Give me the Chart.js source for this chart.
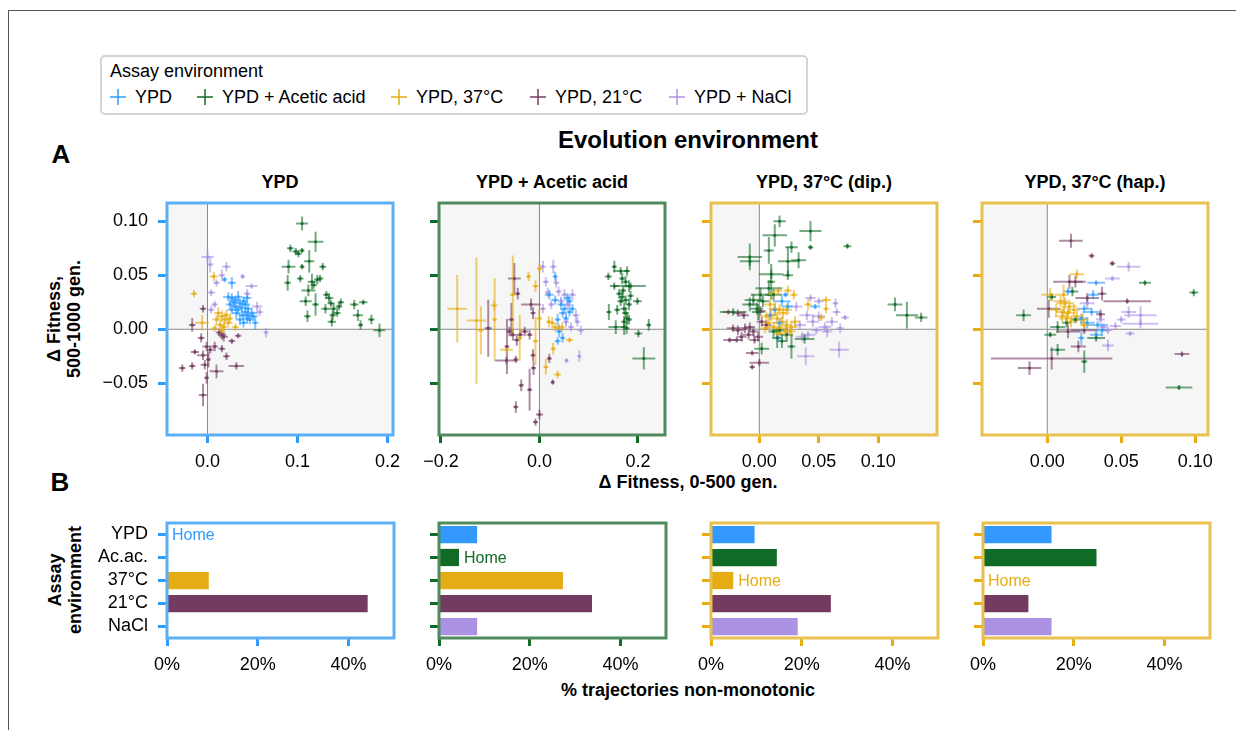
<!DOCTYPE html>
<html>
<head>
<meta charset="utf-8">
<script src="https://cdn.jsdelivr.net/npm/chart.js@4.4.1/dist/chart.umd.min.js"></script>
<style>
  body { margin: 0; background: #fff; font-family: "Liberation Sans", Arial, sans-serif; color: #000; }
  #page { position: relative; width: 1236px; height: 730px; overflow: hidden; }
  #frame { position: absolute; left: 8px; top: 10px; right: -2px; bottom: -2px; border-left: 1px solid #555; border-top: 1px solid #555; }
  canvas { position: absolute; }
  .lbl { position: absolute; transform: translate(-50%, -50%); white-space: nowrap; }
  .b { font-weight: bold; }
  .rot { transform: translate(-50%, -50%) rotate(-90deg); text-align: center; line-height: 20px; }
  #legend { position: absolute; left: 100px; top: 55px; width: 704px; height: 56px; border: 2px solid #d4d4d4; border-radius: 5px; }
  #legend .t { position: absolute; left: 8px; top: 4px; font-size: 18px; }
  #legend .it { position: absolute; top: 30px; font-size: 18px; }
  .mk { position: absolute; width: 16px; height: 16px; }
</style>
</head>
<body>
<div id="page">
  <div id="frame"></div>
  <div id="legend"><div class="t">Assay environment</div></div>
  <div class="lbl b" style="left:61px;top:154px;font-size:26px">A</div>
  <div class="lbl b" style="left:60px;top:482px;font-size:26px">B</div>
  <div class="lbl b" style="left:688px;top:140px;font-size:24px">Evolution environment</div>
  <div class="lbl b" style="left:280px;top:182px;font-size:18px">YPD</div>
  <div class="lbl b" style="left:552px;top:182px;font-size:18px">YPD + Acetic acid</div>
  <div class="lbl b" style="left:824px;top:182px;font-size:18px">YPD, 37°C (dip.)</div>
  <div class="lbl b" style="left:1095px;top:182px;font-size:18px">YPD, 37°C (hap.)</div>
  <div class="lbl b rot" style="left:64px;top:319px;font-size:18px">Δ Fitness,<br>500-1000 gen.</div>
  <div class="lbl b" style="left:688px;top:482px;font-size:18px">Δ Fitness, 0-500 gen.</div>
  <div class="lbl b rot" style="left:65px;top:580px;font-size:18px">Assay<br>environment</div>
  <div class="lbl b" style="left:688px;top:690px;font-size:18px">% trajectories non-monotonic</div>
</div>
<script>
// assay environments
const envNames = ['YPD', 'YPD + Acetic acid', 'YPD, 37°C', 'YPD, 21°C', 'YPD + NaCl'];
const barCats = ['YPD', 'Ac.ac.', '37°C', '21°C', 'NaCl'];
const envColors = ['#2e9bff', '#106b26', '#e5ad13', '#733b60', '#ab92e3'];

// shared y axis of the scatter panels
const yRange = [-0.098, 0.117];
const yTicks = [-0.05, 0, 0.05, 0.10];

// x ranges / ticks of each evolution environment panel
const xRanges = [[-0.045, 0.206], [-0.204, 0.255], [-0.0406, 0.1493], [-0.0441, 0.1086]];
const xTicks = [[0, 0.1, 0.2], [-0.2, 0, 0.2], [0, 0.05, 0.10], [0, 0.05, 0.10]];
const xDecimals = [1, 1, 2, 2];

// points: [dFit 0-500, dFit 500-1000, x err, y err]
// evolved in YPD
const p1_ypd = [[0.019,0.046,0.001,0.001],[0.027,0.043,0.003,0.004],[0.023,0.030,0.004,0.003],[0.027,0.029,0.003,0.003],[0.031,0.027,0.004,0.003],[0.034,0.030,0.003,0.004],[0.040,0.026,0.003,0.003],[0.044,0.029,0.003,0.004],[0.038,0.020,0.004,0.003],[0.042,0.016,0.003,0.003],[0.045,0.013,0.003,0.004],[0.034,0.018,0.003,0.003],[0.031,0.021,0.003,0.003],[0.027,0.018,0.003,0.003],[0.049,0.015,0.005,0.003],[0.053,0.006,0.002,0.005],[0.047,0.009,0.003,0.003],[0.036,0.009,0.003,0.004],[0.040,0.006,0.003,0.003],[0.044,0.010,0.003,0.003],[0.032,0.015,0.003,0.004],[0.025,0.023,0.003,0.003],[0.042,0.023,0.004,0.003],[0.045,0.019,0.003,0.003],[0.051,0.012,0.003,0.003],[0.029,0.025,0.003,0.004],[0.036,0.024,0.003,0.003],[0.039,0.013,0.003,0.003]];
const p1_acetic = [[0.105,0.098,0.005,0.005],[0.120,0.081,0.007,0.008],[0.092,0.075,0.002,0.002],[0.098,0.072,0.002,0.002],[0.101,0.070,0.002,0.002],[0.105,0.073,0.001,0.001],[0.090,0.058,0.006,0.005],[0.105,0.058,0.001,0.001],[0.113,0.063,0.004,0.009],[0.128,0.058,0.002,0.002],[0.089,0.043,0.002,0.006],[0.103,0.047,0.002,0.002],[0.116,0.044,0.003,0.006],[0.118,0.041,0.002,0.002],[0.122,0.046,0.002,0.003],[0.125,0.047,0.002,0.002],[0.112,0.036,0.006,0.004],[0.109,0.026,0.005,0.003],[0.120,0.023,0.002,0.009],[0.132,0.032,0.002,0.002],[0.135,0.029,0.003,0.003],[0.137,0.024,0.002,0.002],[0.140,0.019,0.003,0.004],[0.146,0.021,0.002,0.002],[0.148,0.025,0.002,0.002],[0.138,0.007,0.003,0.003],[0.139,0.013,0.002,0.003],[0.111,0.012,0.002,0.004],[0.163,0.023,0.003,0.003],[0.167,0.013,0.004,0.004],[0.170,0.004,0.001,0.003],[0.173,0.025,0.003,0.001],[0.182,0.009,0.002,0.003],[0.191,-0.001,0.005,0.005],[0.144,0.015,0.002,0.002],[0.131,0.019,0.003,0.003]];
const p1_37 = [[0.007,0.049,0.003,0.003],[-0.015,0.033,0.002,0.002],[-0.006,0.006,0.006,0.006],[0.012,0.015,0.003,0.004],[0.016,0.012,0.003,0.004],[0.019,0.009,0.003,0.005],[0.023,0.006,0.003,0.003],[0.014,0.004,0.003,0.003],[0.018,0.002,0.002,0.003],[0.021,0.013,0.002,0.004],[0.010,0.009,0.003,0.003],[0.025,0.010,0.002,0.003],[0.031,0.002,0.002,0.002],[0.016,-0.001,0.002,0.003],[0.008,0.001,0.002,0.002]];
const p1_21 = [[-0.005,0.019,0.002,0.002],[-0.017,0.004,0.002,0.005],[-0.007,-0.008,0.002,0.003],[-0.001,-0.016,0.003,0.003],[0.003,-0.019,0.002,0.002],[0.008,-0.016,0.002,0.003],[0.016,-0.018,0.002,0.002],[0.018,-0.007,0.003,0.003],[0.027,-0.011,0.002,0.001],[0.034,-0.006,0.002,0.001],[-0.014,-0.021,0.003,0.001],[-0.005,-0.024,0.005,0.003],[0.021,-0.025,0.002,0.002],[-0.017,-0.034,0.002,0.002],[-0.028,-0.036,0.002,0.002],[-0.003,-0.033,0.003,0.003],[0.001,-0.028,0.001,0.006],[0.010,-0.039,0.006,0.005],[0.032,-0.034,0.007,0.002],[-0.001,-0.045,0.001,0.004],[-0.005,-0.061,0.003,0.009],[0.016,-0.005,0.003,0.003],[0.013,-0.003,0.002,0.002]];
const p1_nacl = [[0.000,0.067,0.005,0.005],[0.003,0.060,0.002,0.006],[0.021,0.058,0.003,0.003],[0.016,0.050,0.002,0.004],[0.010,0.043,0.002,0.002],[0.004,0.034,0.003,0.002],[0.039,0.049,0.001,0.001],[0.049,0.040,0.005,0.001],[0.044,0.033,0.002,0.003],[0.055,0.021,0.004,0.003],[0.058,0.016,0.002,0.002],[0.065,-0.003,0.001,0.003],[0.008,0.023,0.002,0.002],[0.004,0.018,0.002,0.002]];

// evolved in YPD + acetic acid
const p2_ypd = [[0.032,0.049,0.002,0.003],[0.020,0.032,0.006,0.003],[0.032,0.027,0.004,0.003],[0.044,0.023,0.004,0.004],[0.051,0.019,0.003,0.003],[0.057,0.029,0.004,0.003],[0.061,0.026,0.003,0.004],[0.047,0.015,0.004,0.003],[0.037,0.009,0.003,0.004],[0.054,0.010,0.003,0.004],[0.040,-0.002,0.003,0.004],[0.047,-0.008,0.002,0.003],[0.037,-0.011,0.003,0.002],[0.061,0.016,0.003,0.003],[0.067,0.019,0.003,0.003]];
const p2_acetic = [[0.152,0.058,0.002,0.004],[0.165,0.054,0.012,0.002],[0.178,0.054,0.003,0.003],[0.140,0.049,0.004,0.002],[0.168,0.047,0.003,0.004],[0.175,0.044,0.003,0.004],[0.182,0.040,0.004,0.004],[0.152,0.040,0.006,0.002],[0.185,0.040,0.028,0.002],[0.162,0.033,0.003,0.003],[0.168,0.030,0.003,0.004],[0.175,0.027,0.003,0.003],[0.165,0.026,0.004,0.003],[0.182,0.023,0.003,0.004],[0.172,0.019,0.004,0.004],[0.199,0.026,0.006,0.002],[0.141,0.016,0.002,0.006],[0.158,0.018,0.003,0.003],[0.175,0.015,0.004,0.004],[0.178,0.010,0.003,0.004],[0.172,0.007,0.003,0.004],[0.182,0.009,0.003,0.003],[0.155,0.002,0.012,0.005],[0.172,0.002,0.003,0.006],[0.177,0.001,0.003,0.004],[0.201,-0.004,0.005,0.002],[0.222,0.004,0.002,0.004],[0.212,-0.027,0.020,0.009],[0.170,0.036,0.003,0.003],[0.185,0.031,0.003,0.003]];
const p2_37 = [[-0.167,0.019,0.017,0.030],[-0.128,0.008,0.017,0.057],[-0.119,-0.001,0.003,0.021],[-0.091,0.009,0.002,0.037],[-0.092,0.022,0.004,0.003],[-0.067,-0.019,0.010,0.002],[-0.054,0.032,0.003,0.035],[-0.022,0.049,0.002,0.003],[-0.008,0.040,0.003,0.004],[0.000,0.056,0.002,0.003],[-0.008,-0.011,0.002,0.021],[0.013,-0.035,0.002,0.006],[0.037,-0.042,0.004,0.002],[0.028,-0.018,0.002,0.004],[0.019,0.007,0.002,0.004],[0.026,0.006,0.002,0.004],[0.032,0.002,0.002,0.003],[0.039,0.001,0.003,0.003],[0.046,0.002,0.002,0.003],[0.061,-0.010,0.004,0.001],[0.000,0.010,0.002,0.008],[-0.040,-0.008,0.002,0.020]];
const p2_21 = [[-0.051,0.047,0.010,0.013],[-0.044,0.033,0.002,0.004],[-0.104,0.001,0.004,0.025],[-0.057,0.009,0.003,0.014],[-0.061,-0.002,0.003,0.003],[-0.054,-0.005,0.003,0.004],[-0.046,-0.010,0.003,0.004],[-0.039,-0.005,0.003,0.003],[-0.030,-0.002,0.004,0.003],[-0.020,-0.005,0.003,0.003],[-0.017,0.023,0.017,0.004],[-0.013,0.015,0.002,0.004],[-0.066,-0.016,0.002,0.024],[-0.067,-0.029,0.020,0.002],[-0.048,-0.028,0.002,0.002],[-0.037,-0.052,0.002,0.004],[-0.020,-0.056,0.002,0.018],[-0.013,-0.024,0.002,0.004],[-0.012,-0.036,0.002,0.005],[0.020,-0.027,0.002,0.003],[-0.048,-0.072,0.002,0.004],[0.000,-0.079,0.004,0.003],[-0.008,-0.086,0.002,0.002],[0.027,-0.049,0.001,0.001]];
const p2_nacl = [[0.007,0.058,0.003,0.004],[0.028,0.058,0.003,0.005],[0.013,0.044,0.003,0.003],[0.034,0.043,0.003,0.003],[0.051,0.032,0.004,0.004],[0.057,0.023,0.004,0.004],[0.067,0.032,0.004,0.004],[0.044,0.026,0.004,0.003],[0.074,0.013,0.004,0.004],[0.077,0.007,0.003,0.003],[0.084,-0.001,0.004,0.003],[0.054,0.007,0.003,0.004],[0.064,0.002,0.003,0.003],[0.024,0.023,0.003,0.003],[0.007,0.019,0.003,0.003],[0.081,-0.025,0.001,0.004],[0.055,-0.029,0.001,0.001],[0.017,0.034,0.003,0.003],[0.039,0.035,0.003,0.003]];

// evolved in YPD, 37°C (diploid)
const p3_ypd = [[0.022,0.032,0.001,0.001],[0.019,0.026,0.006,0.004],[0.047,0.021,0.003,0.001],[0.009,0.013,0.003,0.003],[0.016,-0.008,0.002,0.002],[0.024,0.021,0.003,0.003],[0.017,0.006,0.003,0.003],[0.013,0.018,0.003,0.004]];
const p3_acetic = [[0.017,0.100,0.004,0.004],[0.013,0.087,0.009,0.009],[0.043,0.091,0.008,0.008],[0.027,0.076,0.004,0.004],[0.043,0.076,0.001,0.001],[0.074,0.077,0.002,0.001],[-0.008,0.067,0.009,0.011],[-0.008,0.063,0.007,0.003],[0.008,0.073,0.003,0.011],[0.033,0.064,0.005,0.006],[0.024,0.063,0.007,0.012],[0.010,0.051,0.009,0.003],[0.024,0.050,0.003,0.003],[0.010,0.044,0.002,0.015],[0.008,0.038,0.010,0.006],[0.001,0.032,0.007,0.005],[-0.005,0.027,0.006,0.004],[-0.008,0.023,0.005,0.005],[-0.002,0.019,0.004,0.004],[0.003,0.026,0.004,0.004],[0.012,0.032,0.006,0.004],[-0.022,0.016,0.010,0.002],[-0.001,0.016,0.004,0.006],[0.114,0.023,0.005,0.005],[0.124,0.013,0.008,0.011],[0.136,0.011,0.004,0.003],[0.002,-0.018,0.005,0.004],[0.015,-0.008,0.003,0.008],[0.019,-0.011,0.003,0.005],[0.027,-0.016,0.002,0.010],[0.038,-0.009,0.007,0.003],[0.012,-0.002,0.003,0.004],[0.017,-0.001,0.003,0.003],[0.023,-0.005,0.004,0.005]];
const p3_37 = [[0.016,0.036,0.002,0.002],[0.024,0.036,0.002,0.003],[0.029,0.032,0.002,0.003],[0.012,0.033,0.003,0.002],[0.041,0.023,0.002,0.004],[0.056,0.027,0.003,0.002],[0.056,0.019,0.001,0.003],[0.052,0.011,0.002,0.002],[0.009,0.023,0.004,0.004],[0.013,0.019,0.004,0.005],[0.017,0.018,0.003,0.004],[0.020,0.015,0.004,0.004],[0.023,0.018,0.003,0.004],[0.010,0.013,0.004,0.004],[0.015,0.010,0.004,0.005],[0.019,0.007,0.004,0.004],[0.023,0.004,0.003,0.004],[0.027,0.002,0.004,0.004],[0.017,0.001,0.004,0.004],[0.022,-0.002,0.003,0.004],[0.026,-0.002,0.003,0.003],[0.008,0.006,0.004,0.004],[0.012,0.002,0.003,0.003],[0.016,-0.004,0.003,0.004],[0.006,0.012,0.004,0.003],[0.030,0.007,0.003,0.004],[0.005,0.001,0.003,0.003]];
const p3_21 = [[-0.026,0.016,0.003,0.001],[-0.018,0.015,0.003,0.002],[-0.013,0.013,0.003,0.002],[-0.022,0.001,0.004,0.002],[-0.018,-0.001,0.004,0.003],[-0.012,0.001,0.004,0.003],[-0.008,0.002,0.003,0.003],[-0.005,-0.002,0.003,0.003],[-0.009,-0.005,0.004,0.003],[-0.015,-0.007,0.003,0.003],[-0.001,-0.007,0.003,0.003],[-0.004,-0.010,0.003,0.002],[0.002,0.007,0.003,0.003],[0.006,0.004,0.003,0.003],[-0.025,-0.010,0.004,0.001],[-0.019,-0.010,0.004,0.001],[-0.006,-0.022,0.004,0.001],[0.000,-0.031,0.007,0.002],[-0.006,-0.035,0.001,0.001],[0.001,0.017,0.003,0.003]];
const p3_nacl = [[0.043,0.029,0.003,0.002],[0.050,0.026,0.003,0.002],[0.064,0.024,0.001,0.003],[0.065,0.016,0.002,0.002],[0.072,0.011,0.002,0.001],[0.031,0.021,0.004,0.003],[0.040,0.013,0.005,0.003],[0.045,0.007,0.004,0.004],[0.050,0.012,0.004,0.003],[0.055,0.002,0.004,0.003],[0.057,-0.002,0.003,0.004],[0.068,0.001,0.002,0.003],[0.048,-0.001,0.003,0.002],[0.034,0.004,0.004,0.003],[0.041,-0.005,0.005,0.002],[0.067,-0.019,0.007,0.006],[0.039,-0.025,0.006,0.007],[0.036,-0.007,0.004,0.003],[0.061,0.007,0.004,0.003]];

// evolved in YPD, 37°C (haploid)
const p4_ypd = [[0.033,0.043,0.005,0.001],[0.031,0.032,0.003,0.003],[0.014,0.035,0.002,0.002],[0.025,0.019,0.004,0.002],[0.030,0.016,0.005,0.002],[0.023,0.010,0.003,0.003],[0.027,0.006,0.004,0.004],[0.034,0.004,0.006,0.002],[0.037,-0.001,0.003,0.004],[0.033,-0.005,0.003,0.002],[0.023,-0.008,0.001,0.006]];
const p4_acetic = [[-0.016,0.013,0.004,0.004],[0.003,0.030,0.002,0.002],[0.017,0.035,0.003,0.003],[0.066,0.043,0.003,0.001],[0.099,0.034,0.002,0.002],[0.007,0.002,0.004,0.004],[0.002,-0.005,0.003,0.001],[0.007,-0.019,0.004,0.004],[0.025,-0.030,0.001,0.009],[0.033,-0.008,0.005,0.002],[0.089,-0.054,0.008,0.001],[0.013,0.006,0.002,0.003],[0.019,0.009,0.002,0.002]];
const p4_37 = [[0.020,0.051,0.004,0.003],[0.002,0.032,0.005,0.005],[0.011,0.032,0.002,0.008],[0.009,0.026,0.004,0.004],[0.012,0.024,0.005,0.004],[0.015,0.021,0.004,0.005],[0.006,0.018,0.005,0.004],[0.011,0.016,0.004,0.004],[0.014,0.015,0.004,0.004],[0.018,0.018,0.003,0.004],[0.010,0.012,0.004,0.004],[0.013,0.010,0.004,0.004],[0.016,0.007,0.003,0.004],[0.020,0.012,0.003,0.004],[0.024,0.009,0.003,0.005],[0.025,0.004,0.002,0.003]];
const p4_21 = [[0.016,0.082,0.007,0.005],[0.030,0.068,0.001,0.001],[0.044,0.061,0.001,0.001],[0.015,0.044,0.010,0.005],[0.019,0.044,0.004,0.004],[0.001,0.019,0.007,0.007],[0.027,0.029,0.007,0.003],[0.037,0.033,0.002,0.005],[0.054,0.026,0.015,0.001],[0.036,0.014,0.002,0.003],[0.014,-0.002,0.007,0.005],[0.021,-0.016,0.004,0.004],[0.003,-0.027,0.040,0.009],[-0.012,-0.036,0.007,0.005],[0.091,-0.023,0.004,0.001],[0.025,-0.001,0.008,0.002]];
const p4_nacl = [[0.055,0.058,0.007,0.003],[0.044,0.047,0.004,0.001],[0.027,0.024,0.004,0.004],[0.055,0.016,0.004,0.004],[0.063,0.013,0.010,0.007],[0.063,0.005,0.011,0.003],[0.050,0.009,0.002,0.002],[0.046,0.003,0.003,0.002],[0.041,-0.001,0.002,0.002],[0.056,-0.004,0.002,0.001],[0.041,-0.015,0.003,0.004],[0.036,0.009,0.002,0.003],[0.038,0.002,0.002,0.002]];

// % non-monotonic trajectories per assay env (YPD, Ac.ac., 37, 21, NaCl)
const bars1 = [0, 0, 9.2, 44.2, 0];
const bars2 = [8.4, 4.4, 27.3, 33.7, 8.4];
const bars3 = [9.6, 14.5, 4.9, 26.4, 19.1];
const bars4 = [15.1, 25.0, 0, 10.0, 15.1];
const homeIdx = [0, 1, 2, 2];
const barTicks = [0, 20, 40];

// panel frame colours
const frameColors = ['#5caef5', '#4f8b5c', '#e8c14e', '#e8c14e'];
const tickColors = ['#2e9bff', '#106b26', '#e5ad13', '#e5ad13'];
const homeColors = ['#2e9bff', '#106b26', '#e5ad13', '#e5ad13'];

Chart.defaults.font.family = '"Liberation Sans", Arial, sans-serif';
Chart.defaults.font.size = 18;
Chart.defaults.color = '#000';
Chart.defaults.animation = false;

function rgba(hex, a) {
  const n = parseInt(hex.slice(1), 16);
  return `rgba(${n >> 16},${(n >> 8) & 255},${n & 255},${a})`;
}
function fmt(v, d) {
  const s = Math.abs(v).toFixed(d);
  return v < -1e-9 ? '\u2212' + s : s;
}

const frame = {
  id: 'frame',
  afterDraw(chart, args, o) {
    const { ctx, chartArea: a } = chart;
    ctx.save();
    ctx.strokeStyle = o.color;
    ctx.lineWidth = 3;
    ctx.strokeRect(a.left, a.top, a.right - a.left, a.bottom - a.top);
    ctx.restore();
  }
};

const quadrants = {
  id: 'quadrants',
  beforeDatasetsDraw(chart) {
    const { ctx, chartArea: a, scales: { x, y } } = chart;
    const x0 = x.getPixelForValue(0), y0 = y.getPixelForValue(0);
    ctx.save();
    ctx.fillStyle = '#f6f6f6';
    ctx.fillRect(a.left, a.top, x0 - a.left, y0 - a.top);
    ctx.fillRect(x0, y0, a.right - x0, a.bottom - y0);
    ctx.strokeStyle = '#8a8a8a';
    ctx.lineWidth = 1;
    ctx.beginPath();
    ctx.moveTo(x0, a.top); ctx.lineTo(x0, a.bottom);
    ctx.moveTo(a.left, y0); ctx.lineTo(a.right, y0);
    ctx.stroke();
    // error bars
    ctx.beginPath();
    ctx.rect(a.left, a.top, a.right - a.left, a.bottom - a.top);
    ctx.clip();
    ctx.lineWidth = 2;
    chart.data.datasets.forEach(ds => {
      ctx.strokeStyle = ds.errColor;
      ds.data.forEach(p => {
        const px = x.getPixelForValue(p.x), py = y.getPixelForValue(p.y);
        ctx.beginPath();
        ctx.moveTo(x.getPixelForValue(p.x - p.xe) - 1.5, py);
        ctx.lineTo(x.getPixelForValue(p.x + p.xe) + 1.5, py);
        ctx.moveTo(px, y.getPixelForValue(p.y - p.ye) + 1.5);
        ctx.lineTo(px, y.getPixelForValue(p.y + p.ye) - 1.5);
        ctx.stroke();
      });
    });
    ctx.restore();
  }
};

const homeLabel = {
  id: 'homeLabel',
  afterDatasetsDraw(chart, args, o) {
    const { ctx, scales: { x, y } } = chart;
    const v = chart.data.datasets[0].data[o.index];
    ctx.save();
    ctx.font = '16px "Liberation Sans", Arial, sans-serif';
    ctx.fillStyle = o.color;
    ctx.textBaseline = 'middle';
    ctx.fillText('Home', x.getPixelForValue(v) + 5, y.getPixelForValue(o.index) + 1);
    ctx.restore();
  }
};

const page = document.getElementById('page');
function makeCanvas(left, top, w, h) {
  const c = document.createElement('canvas');
  c.width = w; c.height = h;
  c.style.left = left + 'px'; c.style.top = top + 'px';
  page.appendChild(c);
  return c;
}

// tick-label padding of y axis needs ~20px above the plot
const PADL = 80, PADT = 26, PADR = 30, PADB = 45;
const scatterLefts = [167, 439, 711, 982];
const scatterSeries = [
  [p1_nacl, p1_21, p1_acetic, p1_37, p1_ypd],
  [p2_nacl, p2_21, p2_acetic, p2_37, p2_ypd],
  [p3_nacl, p3_21, p3_acetic, p3_ypd, p3_37],
  [p4_nacl, p4_21, p4_acetic, p4_ypd, p4_37]
];
const seriesEnv = [
  [4, 3, 1, 2, 0], [4, 3, 1, 2, 0], [4, 3, 1, 0, 2], [4, 3, 1, 0, 2]
];

scatterLefts.forEach((left, i) => {
  const w = 226, h = 232;
  const c = makeCanvas(left - PADL, 203 - PADT, w + PADL + PADR, h + PADT + PADB);
  new Chart(c, {
    type: 'scatter',
    data: {
      datasets: scatterSeries[i].map((s, k) => {
        const col = envColors[seriesEnv[i][k]];
        return {
          label: envNames[seriesEnv[i][k]],
          data: s.map(p => ({ x: p[0], y: p[1], xe: p[2], ye: p[3] })),
          backgroundColor: rgba(col, 0.9),
          borderWidth: 0,
          pointRadius: 1.6,
          errColor: rgba(col, 0.58)
        };
      })
    },
    options: {
      responsive: false,
      layout: { padding: { left: 0, top: PADT, right: PADR, bottom: 0 } },
      plugins: { legend: { display: false }, tooltip: { enabled: false }, frame: { color: frameColors[i] } },
      scales: {
        x: {
          type: 'linear', min: xRanges[i][0], max: xRanges[i][1],
          afterBuildTicks: s => { s.ticks = xTicks[i].map(v => ({ value: v })); },
          afterFit: s => { s.height = PADB; },
          ticks: { callback: v => fmt(v, xDecimals[i]), padding: 8, maxRotation: 0 },
          grid: { drawOnChartArea: false, tickLength: 8, tickWidth: 3, tickColor: tickColors[i] },
          border: { display: false }
        },
        y: {
          type: 'linear', min: yRange[0], max: yRange[1],
          afterBuildTicks: s => { s.ticks = yTicks.map(v => ({ value: v })); },
          afterFit: s => { s.width = PADL; },
          ticks: { callback: v => i === 0 ? fmt(v, 2) : '', padding: 10 },
          grid: { drawOnChartArea: false, tickLength: 9, tickWidth: 3, tickColor: tickColors[i] },
          border: { display: false }
        }
      }
    },
    plugins: [quadrants, frame]
  });
});

const barLefts = [167, 439, 711, 983];
const barSeries = [bars1, bars2, bars3, bars4];
barLefts.forEach((left, i) => {
  const w = 227, h = 115;
  const c = makeCanvas(left - PADL, 523 - PADT, w + PADL + PADR, h + PADT + PADB);
  new Chart(c, {
    type: 'bar',
    data: {
      labels: barCats,
      datasets: [{
        data: barSeries[i],
        backgroundColor: envColors.map(col => col === '#2e9bff' ? '#3399ff' : col),
        barPercentage: 0.75,
        categoryPercentage: 1
      }]
    },
    options: {
      indexAxis: 'y',
      responsive: false,
      layout: { padding: { left: 0, top: PADT, right: PADR, bottom: 0 } },
      plugins: {
        legend: { display: false }, tooltip: { enabled: false },
        frame: { color: frameColors[i] },
        homeLabel: { index: homeIdx[i], color: homeColors[i] }
      },
      scales: {
        x: {
          type: 'linear', min: 0, max: 50,
          afterBuildTicks: s => { s.ticks = barTicks.map(v => ({ value: v })); },
          afterFit: s => { s.height = PADB; },
          ticks: { callback: v => v + '%', padding: 8, maxRotation: 0 },
          grid: { drawOnChartArea: false, tickLength: 8, tickWidth: 3, tickColor: tickColors[i] },
          border: { display: false }
        },
        y: {
          type: 'category', offset: true,
          afterFit: s => { s.width = PADL; },
          ticks: { callback: (v, k) => i === 0 ? barCats[k] : '', padding: 10, autoSkip: false },
          grid: { offset: false, drawOnChartArea: false, tickLength: 9, tickWidth: 3, tickColor: tickColors[i] },
          border: { display: false }
        }
      }
    },
    plugins: [frame, homeLabel]
  });
});

// legend
const legend = document.getElementById('legend');
const legendX = [8, 95, 289, 428, 567];
envNames.forEach((n, k) => {
  const col = rgba(envColors[k], 0.75);
  const m = document.createElement('div');
  m.className = 'mk';
  m.style.left = legendX[k] + 'px';
  m.style.top = '32px';
  m.style.background = `linear-gradient(${col},${col}) center/16px 2px no-repeat, linear-gradient(${col},${col}) center/2px 16px no-repeat`;
  legend.appendChild(m);
  const t = document.createElement('div');
  t.className = 'it';
  t.style.left = (legendX[k] + 25) + 'px';
  t.textContent = n;
  legend.appendChild(t);
});
</script>
</body>
</html>
